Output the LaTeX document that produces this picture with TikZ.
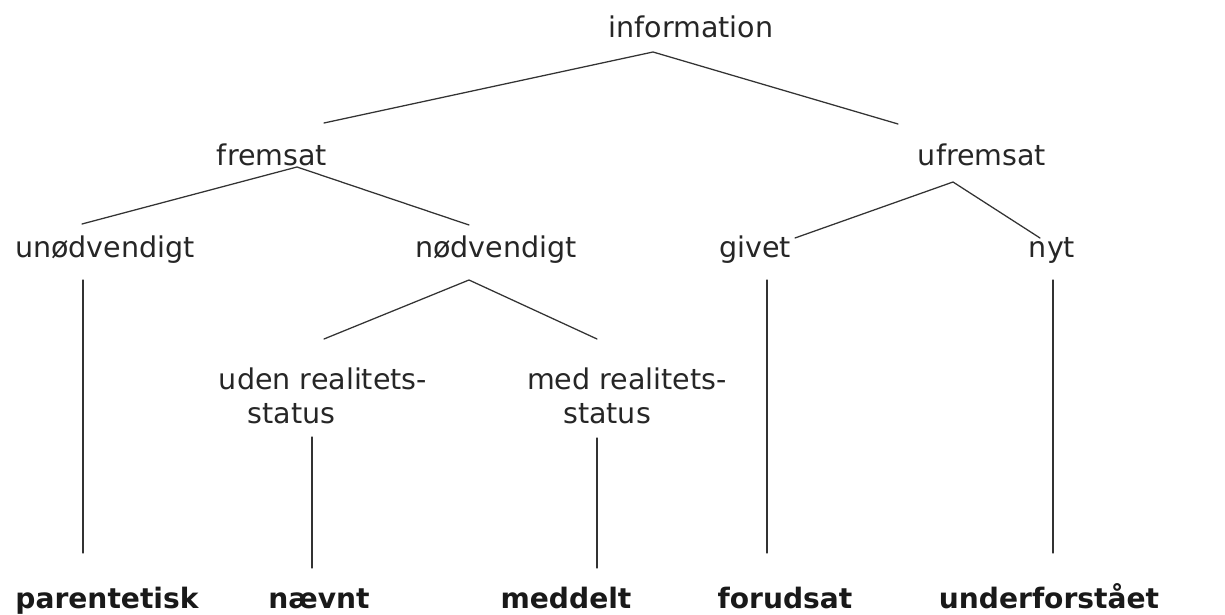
\documentclass[tikz,border=0pt]{standalone}
\usepackage{fontspec}
\setmainfont{DejaVu Sans}
\newcommand{\treefont}{\fontsize{20.3}{24.2}\selectfont}
\newcommand{\leaffont}{\fontsize{20}{24}\selectfont\bfseries}

\begin{document}
\begin{tikzpicture}[x=0.025cm, y=-0.025cm, line cap=round, line join=round,
  word/.style={inner sep=0pt, anchor=base, font=\treefont, text=black!85},
  twoline/.style={word, anchor=center, align=center},
  leaf/.style={word, font=\leaffont, text=black!90},
  branch/.style={line width=0.9pt, draw=black!80}]
  \useasboundingbox (0,0) rectangle (1225,615);

  % labels of the tree
  \node[word] (info)  at (691,38)  {information};
  \node[word] (frem)  at (272,166) {fremsat};
  \node[word] (ufrem) at (982,166) {ufremsat};
  \node[word] (unod)  at (105,258) {unødvendigt};
  \node[word] (nod)   at (496,258) {nødvendigt};
  \node[word] (givet) at (755,258) {givet};
  \node[word] (nyt)   at (1052,258) {nyt};
  \node[twoline] (uden) at (323,396) {uden realitets-\\status\hspace*{2.2em}};
  \node[twoline] (med)  at (627,396) {med realitets-\\status\hspace*{1.4em}};

  % leaves
  \node[leaf] (parent) at (107,609)  {parentetisk};
  \node[leaf] (naevnt) at (319,609)  {nævnt};
  \node[leaf] (meddel) at (566,609)  {meddelt};
  \node[leaf] (foruds) at (785,609)  {forudsat};
  \node[leaf] (underf) at (1049,609) {underforstået};

  % junction points and loose ends
  \coordinate (infoJ)  at (653,52);
  \coordinate (infoL)  at (324,123);
  \coordinate (infoR)  at (898,124);
  \coordinate (fremJ)  at (297,167);
  \coordinate (fremL)  at (82,224);
  \coordinate (fremR)  at (469,225);
  \coordinate (ufremJ) at (953,182);
  \coordinate (ufremL) at (795,238);
  \coordinate (ufremR) at (1040,238);
  \coordinate (nodJ)   at (469,280);
  \coordinate (nodL)   at (324,339);
  \coordinate (nodR)   at (597,339);

  % stem ends
  \coordinate (unodS)   at (83,280);
  \coordinate (parentS) at (83,553);
  \coordinate (udenS)   at (312,437);
  \coordinate (naevntS) at (312,568);
  \coordinate (medS)    at (597,438);
  \coordinate (meddelS) at (597,568);
  \coordinate (givetS)  at (767,280);
  \coordinate (forudsS) at (767,553);
  \coordinate (nytS)    at (1053,280);
  \coordinate (underfS) at (1053,553);

  \draw[branch] (infoL)--(infoJ)--(infoR); % top split
  \draw[branch] (fremL)--(fremJ)--(fremR);
  \draw[branch] (ufremL)--(ufremJ)--(ufremR);
  \draw[branch] (nodL)--(nodJ)--(nodR);

  % stems down to the leaves
  \draw[branch] (unodS)--(parentS);
  \draw[branch] (udenS)--(naevntS);
  \draw[branch] (medS)--(meddelS);
  \draw[branch] (givetS)--(forudsS);
  \draw[branch] (nytS)--(underfS);
\end{tikzpicture}
\end{document}
